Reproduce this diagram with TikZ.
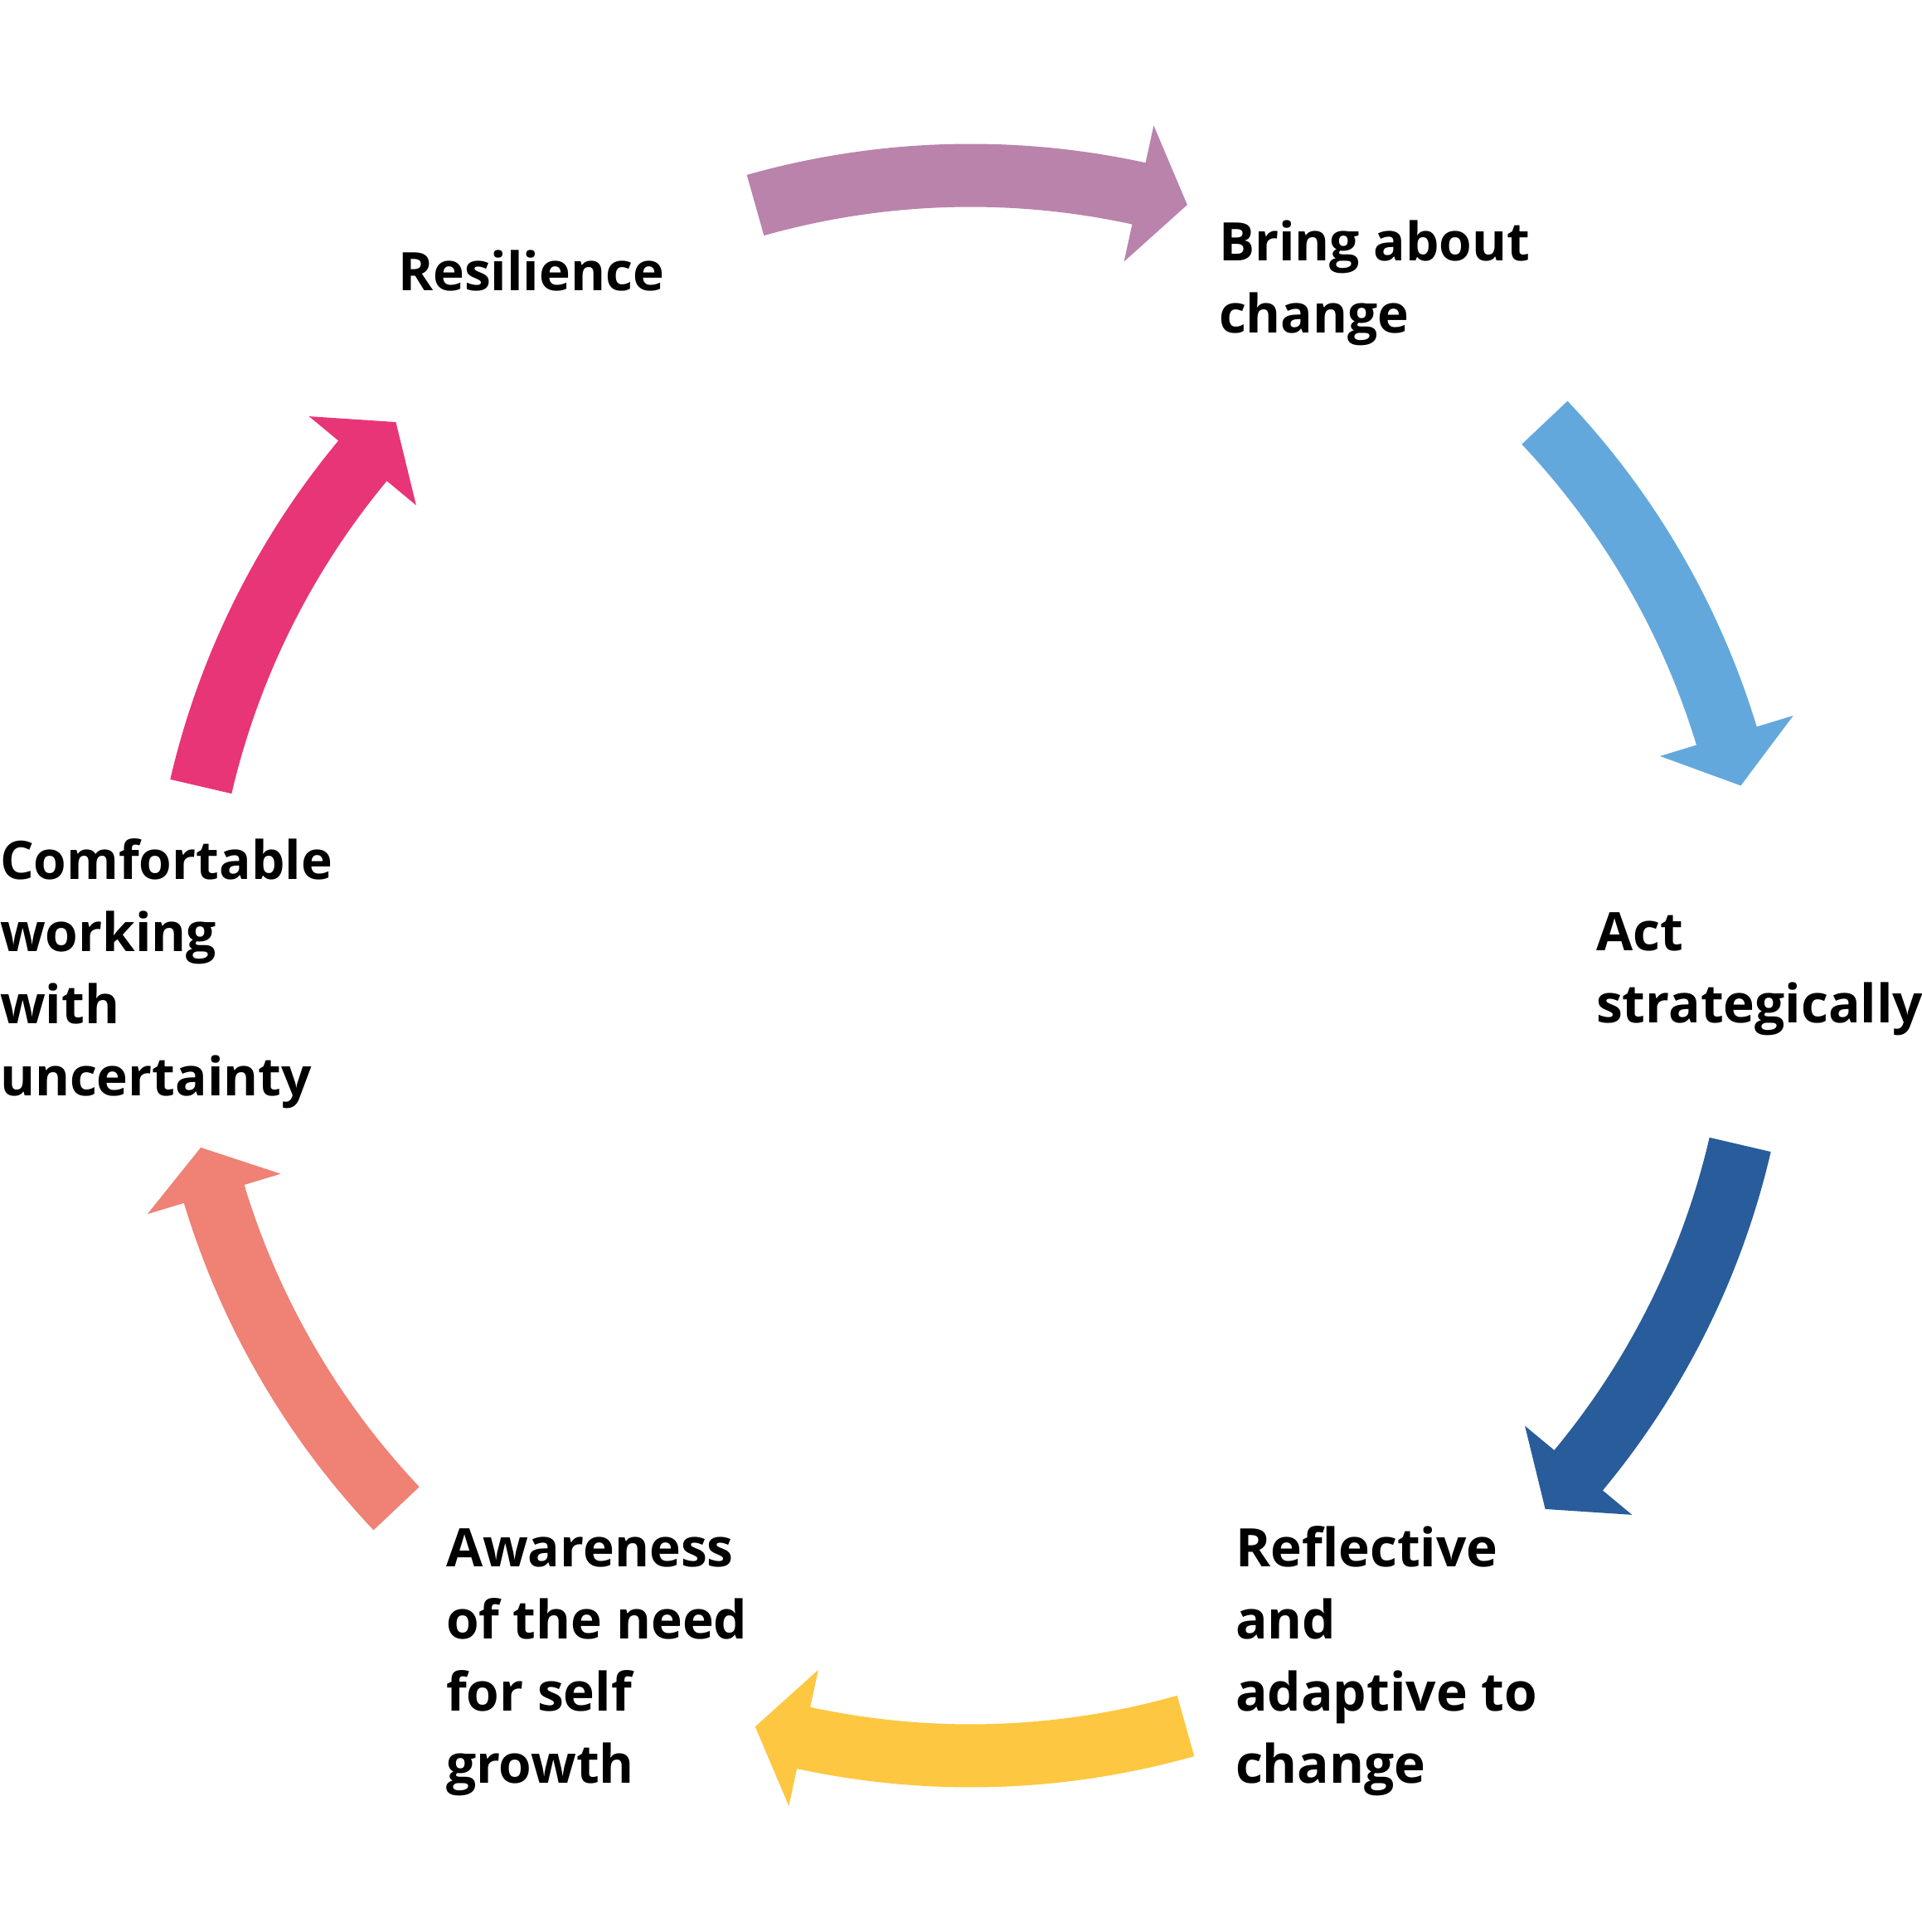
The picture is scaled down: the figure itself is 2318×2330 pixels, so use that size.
\documentclass[tikz,border=0pt]{standalone}
\usepackage{fontspec}
\setmainfont{Open Sans}
\definecolor{cPurple}{HTML}{B983AC}
\definecolor{cLightBlue}{HTML}{63A8DC}
\definecolor{cDarkBlue}{HTML}{295C9B}
\definecolor{cYellow}{HTML}{FDC741}
\definecolor{cSalmon}{HTML}{EF8175}
\definecolor{cPink}{HTML}{E83577}
% #1 colour, #2 tail angle, #3 head base angle, #4 tip angle (around the centre c)
\newcommand{\cycarrow}[4]{%
  \fill[#1, shift={(c)}]
    (#2:991pt) arc[start angle=#2, end angle=#3, radius=991pt]
    -- (#3:1037pt) -- (#4:954pt) -- (#3:869pt) -- (#3:915pt)
    arc[start angle=#3, end angle=#2, radius=915pt] -- cycle;}
\tikzset{lbl/.style={anchor=base west, inner sep=0pt, outer sep=0pt,
  font=\fontsize{64}{86.8}\selectfont\bfseries}}
\begin{document}
\begin{tikzpicture}[x=1pt,y=1pt]
\useasboundingbox (0,0) rectangle (2318,2330);
\coordinate (c) at (1170.5,1165.5);
% arrows
\cycarrow{cPurple}{105.8}{77.7}{74.1}
\cycarrow{cLightBlue}{43.4}{16.9}{13.15}
\cycarrow{cDarkBlue}{-13.1}{-39.7}{-43.4}
\cycarrow{cYellow}{285.8}{257.8}{254.2}
\cycarrow{cSalmon}{223.4}{196.8}{193.3}
\cycarrow{cPink}{166.9}{140.3}{136.6}
% labels
\node[lbl] (res) at (480,1979) {Resilience};
\node[lbl] (bring) at (1470,2015) {\begin{tabular}[t]{@{}l@{}}Bring about\\change\end{tabular}};
\node[lbl] (act) at (1925,1183.3) {\begin{tabular}[t]{@{}l@{}}Act\\strategically\end{tabular}};
\node[lbl] (refl) at (1490,440) {\begin{tabular}[t]{@{}l@{}}Reflective\\and\\adaptive to\\change\end{tabular}};
\node[lbl] (aware) at (538,440) {\begin{tabular}[t]{@{}l@{}}Awareness\\of the need\\for self\\growth\end{tabular}};
\node[lbl] (comf) at (0,1269) {\begin{tabular}[t]{@{}l@{}}Comfortable\\working\\with\\uncertainty\end{tabular}};
\end{tikzpicture}
\end{document}
